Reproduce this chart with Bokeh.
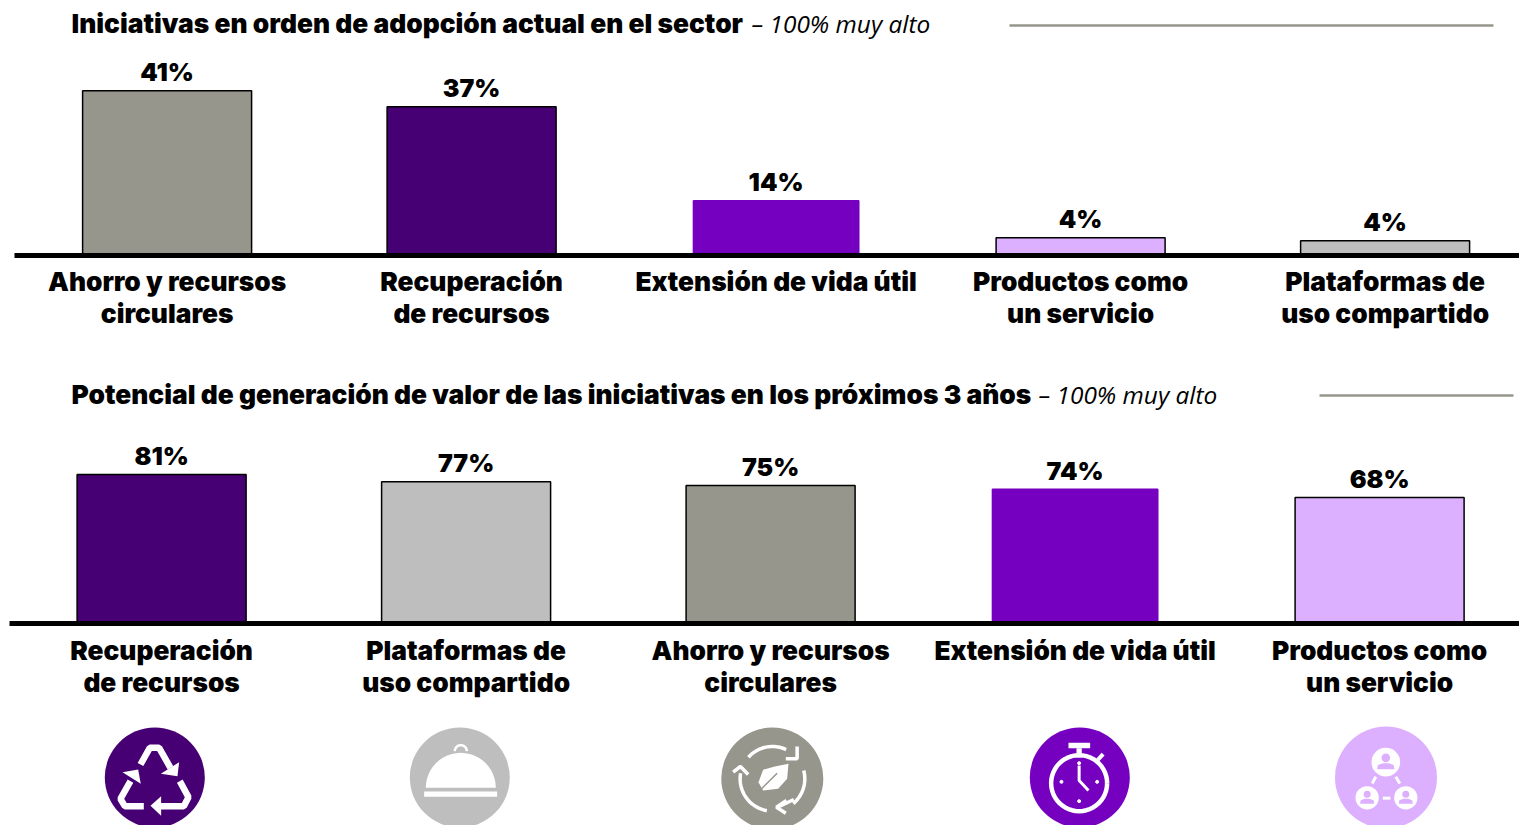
from bokeh.plotting import figure
from bokeh.layouts import column
from bokeh.models import Range1d, ColumnDataSource
from bokeh.core.properties import value
from bokeh.embed import file_html
from bokeh.resources import INLINE
import math

GREY, DARK, PURPLE, LIGHT, SILVER = "#96968C", "#460073", "#7500C0", "#DCAFFF", "#BEBEBE"

top_title = "Iniciativas en orden de adopción actual en el sector"
top_note = "– 100% muy alto"
top_categories = ["Ahorro y recursos\ncirculares", "Recuperación\nde recursos", "Extensión de vida útil", "Productos como\nun servicio", "Plataformas de\nuso compartido"]
top_values = [41, 37, 13.6, 4.4, 3.7]
top_labels = ["41%", "37%", "14%", "4%", "4%"]
top_colors = [GREY, DARK, PURPLE, LIGHT, SILVER]

bottom_title = "Potencial de generación de valor de las iniciativas en los próximos 3 años"
bottom_note = "– 100% muy alto"
bottom_categories = ["Recuperación\nde recursos", "Plataformas de\nuso compartido", "Ahorro y recursos\ncirculares", "Extensión de vida útil", "Productos como\nun servicio"]
bottom_values = [81, 77, 75, 73, 68.5]
bottom_labels = ["81%", "77%", "75%", "74%", "68%"]
bottom_colors = [DARK, SILVER, GREY, PURPLE, LIGHT]

HEAVY = "Inter Black"
NOTE = "Open Sans"
STEP = 304.5


def panel(title, note, cats, vals, labs, cols, page_top, height, base_px, scale, base_left, first_center,
          title_y, note_y, note_x, rule, rule_y, label_top):
    p = figure(width=1519, height=height, output_backend="svg", toolbar_location=None,
               x_range=Range1d((0 - first_center) / STEP, (1519 - first_center) / STEP),
               y_range=Range1d((base_px - page_top - height) / scale, (base_px - page_top) / scale),
               x_axis_location=None, y_axis_location=None,
               min_border_left=0, min_border_right=0, min_border_top=0, min_border_bottom=0)
    p.grid.visible = False
    p.outline_line_color = None
    xv = lambda px: (px - first_center) / STEP
    yv = lambda px: (base_px - px) / scale
    xs = list(range(len(vals)))
    src = ColumnDataSource(dict(x=xs, top=vals, fill=cols, labs=labs, cats=cats,
                                line=["#000000" if c != PURPLE else c for c in cols],
                                w=[0.555 if c != PURPLE else 0.543 for c in cols]))
    p.vbar(x="x", top="top", bottom=0, width="w", fill_color="fill", line_color="line", line_width=1.5, source=src)
    p.line(x=[xv(base_left), xv(1520)], y=[0, 0], line_color="#000000", line_width=5)
    p.text(x="x", y="top", text="labs", source=src, text_align="center", text_baseline="bottom", y_offset=-3.5,
           text_font=value(HEAVY), text_font_size="25px", text_color="#000000")
    p.text(x="x", y=yv(label_top), text="cats", source=src, text_align="center", text_baseline="top",
           text_line_height=1.06, text_font=value(HEAVY), text_font_size="26.3px", text_color="#000000")
    p.text(x=[xv(71)], y=[yv(title_y)], text=[title], text_align="left", text_baseline="middle",
           text_font=value(HEAVY), text_font_size="26.35px", text_color="#000000")
    p.text(x=[xv(note_x)], y=[yv(note_y)], text=[note], text_align="left", text_baseline="middle",
           text_font=value(NOTE), text_font_style="italic", text_font_size="24.4px", text_color="#000000")
    p.line(x=[xv(r) for r in rule], y=[yv(rule_y)] * 2, line_color=GREY, line_width=2.5)
    return p


fig1 = panel(top_title, top_note, top_categories, top_values, top_labels, top_colors,
             0, 360, 255, 4.02, 14, 166.6, 22, 23, 751, (1009, 1493), 25, 265)
fig2 = panel(bottom_title, bottom_note, bottom_categories, bottom_values, bottom_labels, bottom_colors,
             360, 360, 623, 1.84, 9, 161.1, 393.5, 393.5, 1038, (1319, 1513), 395, 634)

# icon row: the x and y of this figure are page pixels
ic = figure(width=1519, height=105, output_backend="svg", toolbar_location=None,
            x_range=Range1d(0.7, 1519.7), y_range=Range1d(825, 720),
            x_axis_location=None, y_axis_location=None,
            min_border_left=0, min_border_right=0, min_border_top=0, min_border_bottom=0)
ic.grid.visible = False
ic.outline_line_color = None
W = "#FFFFFF"


def disc(cx, cy, r, color):
    ic.circle(x=[cx], y=[cy], radius=r, fill_color=color, line_color=None)


def stroke(ox, oy, pts, width=5, color=W):
    ic.line(x=[ox + a / 3 for a, b in pts], y=[oy + b / 3 for a, b in pts], line_color=color, line_width=width)


def fill(ox, oy, pts, color=W):
    ic.patch(x=[ox + a / 3 for a, b in pts], y=[oy + b / 3 for a, b in pts], fill_color=color, line_color=None)


def arc(cx, cy, r, a0, a1, n=24):
    return [(cx + r * math.cos(math.radians(a0 + (a1 - a0) * i / n)), cy + r * math.sin(math.radians(a0 + (a1 - a0) * i / n))) for i in range(n + 1)]


# recycling
disc(155, 777, 50, DARK)
stroke(60, 710, [(242, 162), (270, 112), (298, 112), (332, 172)], 6.5)
fill(60, 710, [(303, 190), (358, 155), (353, 197)])
stroke(60, 710, [(252, 287), (195, 287), (182, 265), (212, 212)], 6.5)
fill(60, 710, [(188, 185), (235, 177), (243, 220)])
stroke(60, 710, [(360, 212), (386, 260), (372, 287), (295, 287)], 6.5)
fill(60, 710, [(272, 286), (304, 257), (304, 316)])
# cloche
disc(460, 777, 50, SILVER)
fill(60, 710, arc(1203, 232, 105, 180, 360))
fill(60, 710, [(1093, 243), (1312, 243), (1312, 259), (1093, 259)])
stroke(60, 710, arc(1203, 122, 18, 180, 360), 2.5)
# leaf
disc(772.5, 778, 51, GREY)
stroke(680, 710, arc(278, 205, 97, 222, 295), 3.5)
stroke(680, 710, [(352, 108), (352, 145), (318, 145)], 3.5)
stroke(680, 710, arc(278, 205, 97, 345, 410), 3.5)
stroke(680, 710, [(342, 267), (292, 291)], 3.5)
stroke(680, 710, [(320, 270), (290, 290), (318, 308)], 3.5)
stroke(680, 710, arc(278, 205, 97, 100, 190), 3.5)
stroke(680, 710, [(160, 185), (182, 168), (205, 192)], 3.5)
fill(680, 710, [(326, 160), (322, 205), (295, 235), (250, 240), (236, 215), (250, 178), (285, 168)])
stroke(680, 710, [(232, 248), (292, 188)], 1.5, GREY)
# stopwatch
disc(1080, 777, 50, PURPLE)
stroke(680, 710, arc(1198, 218, 84, 0, 360, 48), 4.5)
fill(680, 710, [(1166, 97), (1231, 97), (1231, 113), (1166, 113)])
fill(680, 710, [(1190, 113), (1206, 113), (1206, 130), (1190, 130)])
stroke(680, 710, [(1254, 148), (1270, 131)], 4)
stroke(680, 710, [(1198, 165), (1198, 210), (1226, 240)], 3)
ic.scatter(x=[680 + a / 3 for a in (1198, 1145, 1252, 1198)], y=[710 + b / 3 for b in (158, 214, 214, 272)], size=3, color=W)
# people
disc(1386.2, 777, 51, LIGHT)
for cx, cy, r in ((408, 155, 43), (352, 262, 35), (468, 262, 35)):
    ic.circle(x=[1250 + cx / 3], y=[710 + cy / 3], radius=r / 3, fill_color=W, line_color=None)
    ic.circle(x=[1250 + cx / 3], y=[710 + (cy - r * 0.3) / 3], radius=r * 0.3 / 3, fill_color=LIGHT, line_color=None)
    fill(1250, 710, [(cx - r * 0.6, cy + r * 0.5), (cx - r * 0.55, cy + r * 0.2), (cx - r * 0.2, cy + r * 0.08),
                     (cx + r * 0.2, cy + r * 0.08), (cx + r * 0.55, cy + r * 0.2), (cx + r * 0.6, cy + r * 0.5)], LIGHT)
stroke(1250, 710, [(378, 199), (367, 219)], 3)
stroke(1250, 710, [(438, 199), (450, 219)], 3)
stroke(1250, 710, [(399, 263), (422, 263)], 3)

page = column(fig1, fig2, ic, spacing=0)
open("out.html", "w").write(file_html(page, INLINE))
